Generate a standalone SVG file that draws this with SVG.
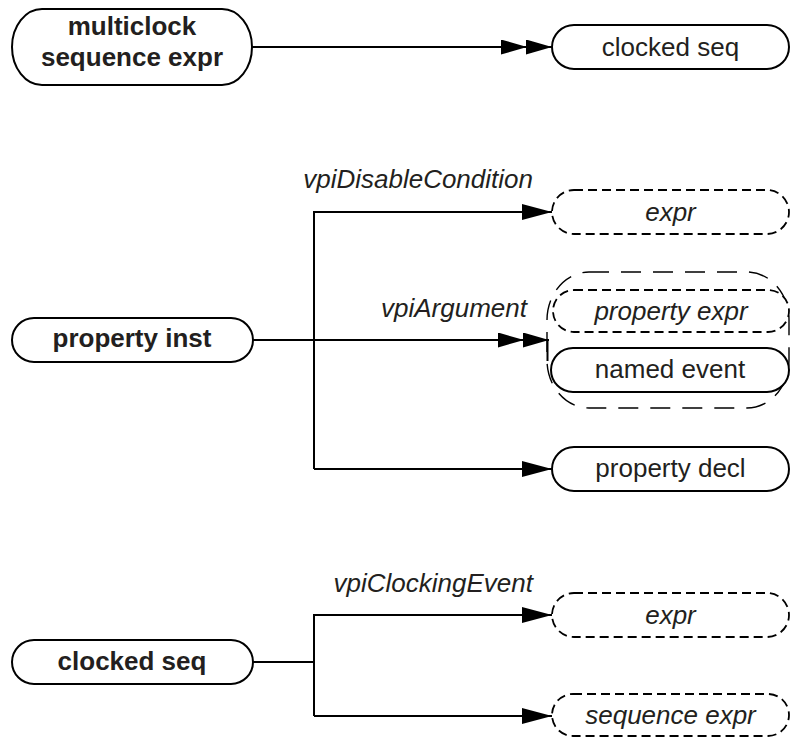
<svg xmlns="http://www.w3.org/2000/svg" width="792" height="738" viewBox="0 0 792 738">
<style>
.node{fill:#fff;stroke:#000;stroke-width:2}
.dash{fill:#fff;stroke:#000;stroke-width:1.8;stroke-dasharray:9 5}
.outer{fill:none;stroke:#000;stroke-width:1.4;stroke-dasharray:20 12}
.t{font-family:"Liberation Sans",Arial,sans-serif;font-size:26px;fill:#231f20;text-anchor:middle}
.b{font-weight:bold}
.i{font-style:italic}
.lbl{font-family:"Liberation Sans",Arial,sans-serif;font-size:26px;font-style:italic;fill:#231f20;text-anchor:end}
.c{fill:none;stroke:#000;stroke-width:2}
</style>
<defs>
<marker id="a1" markerUnits="userSpaceOnUse" markerWidth="32" markerHeight="18" refX="30" refY="8" orient="auto"><path d="M0,0 L30,8 L0,16 Z" fill="#000"/></marker>
<marker id="a2" markerUnits="userSpaceOnUse" markerWidth="54" markerHeight="18" refX="51" refY="7.5" orient="auto"><path d="M0,0 L26,7.5 L0,15 Z M25,0 L51,7.5 L25,15 Z" fill="#000"/></marker>
</defs>
<g id="connectors">
<path class="c" d="M252,47 H552" marker-end="url(#a2)"/>
<path class="c" d="M253,340 H549" marker-end="url(#a2)"/>
<path class="c" d="M547.5,340 V361" stroke-width="1.5"/>
<path class="c" d="M314,469 V212 H552" marker-end="url(#a1)"/>
<path class="c" d="M314,469 H552" marker-end="url(#a1)"/>
<path class="c" d="M253,662 H314"/>
<path class="c" d="M314,716 V615 H552" marker-end="url(#a1)"/>
<path class="c" d="M314,716 H552" marker-end="url(#a1)"/>
<text class="lbl" x="533" y="188">vpiDisableCondition</text>
<text class="lbl" x="527" y="317">vpiArgument</text>
<text class="lbl" x="533" y="592">vpiClockingEvent</text>
</g>
<g id="multiclock_sequence_expr">
<rect class="node" x="12" y="9" width="240" height="76" rx="30" ry="38"/>
<text class="t b" x="132" y="35">multiclock</text>
<text class="t b" x="132" y="66">sequence expr</text>
</g>
<g id="clocked_seq_top">
<rect class="node" x="552" y="25" width="237" height="44" rx="22"/>
<text class="t" x="670.5" y="56">clocked seq</text>
</g>
<g id="property_inst">
<rect class="node" x="12" y="318" width="241" height="44" rx="22"/>
<text class="t b" x="132" y="347">property inst</text>
</g>
<g id="expr_disable">
<rect class="dash" x="552" y="190" width="237" height="44" rx="22"/>
<text class="t i" x="670.5" y="221">expr</text>
</g>
<g id="argument_group">
<rect class="outer" x="547" y="272" width="242" height="136" rx="42" ry="48"/>
<g id="property_expr">
<rect class="dash" x="553" y="290" width="236" height="42" rx="21"/>
<text class="t i" x="671" y="320">property expr</text>
</g>
<g id="named_event">
<rect class="node" x="551" y="348" width="238" height="44" rx="22"/>
<text class="t" x="670" y="378">named event</text>
</g>
</g>
<g id="property_decl">
<rect class="node" x="552" y="447" width="237" height="44" rx="22"/>
<text class="t" x="670.5" y="477">property decl</text>
</g>
<g id="clocked_seq">
<rect class="node" x="12" y="640" width="241" height="44" rx="22"/>
<text class="t b" x="132" y="670">clocked seq</text>
</g>
<g id="expr_clocking">
<rect class="dash" x="552" y="593" width="237" height="44" rx="22"/>
<text class="t i" x="670.5" y="624">expr</text>
</g>
<g id="sequence_expr">
<rect class="dash" x="552" y="694" width="237" height="42" rx="21"/>
<text class="t i" x="670.5" y="724">sequence expr</text>
</g>
</svg>
